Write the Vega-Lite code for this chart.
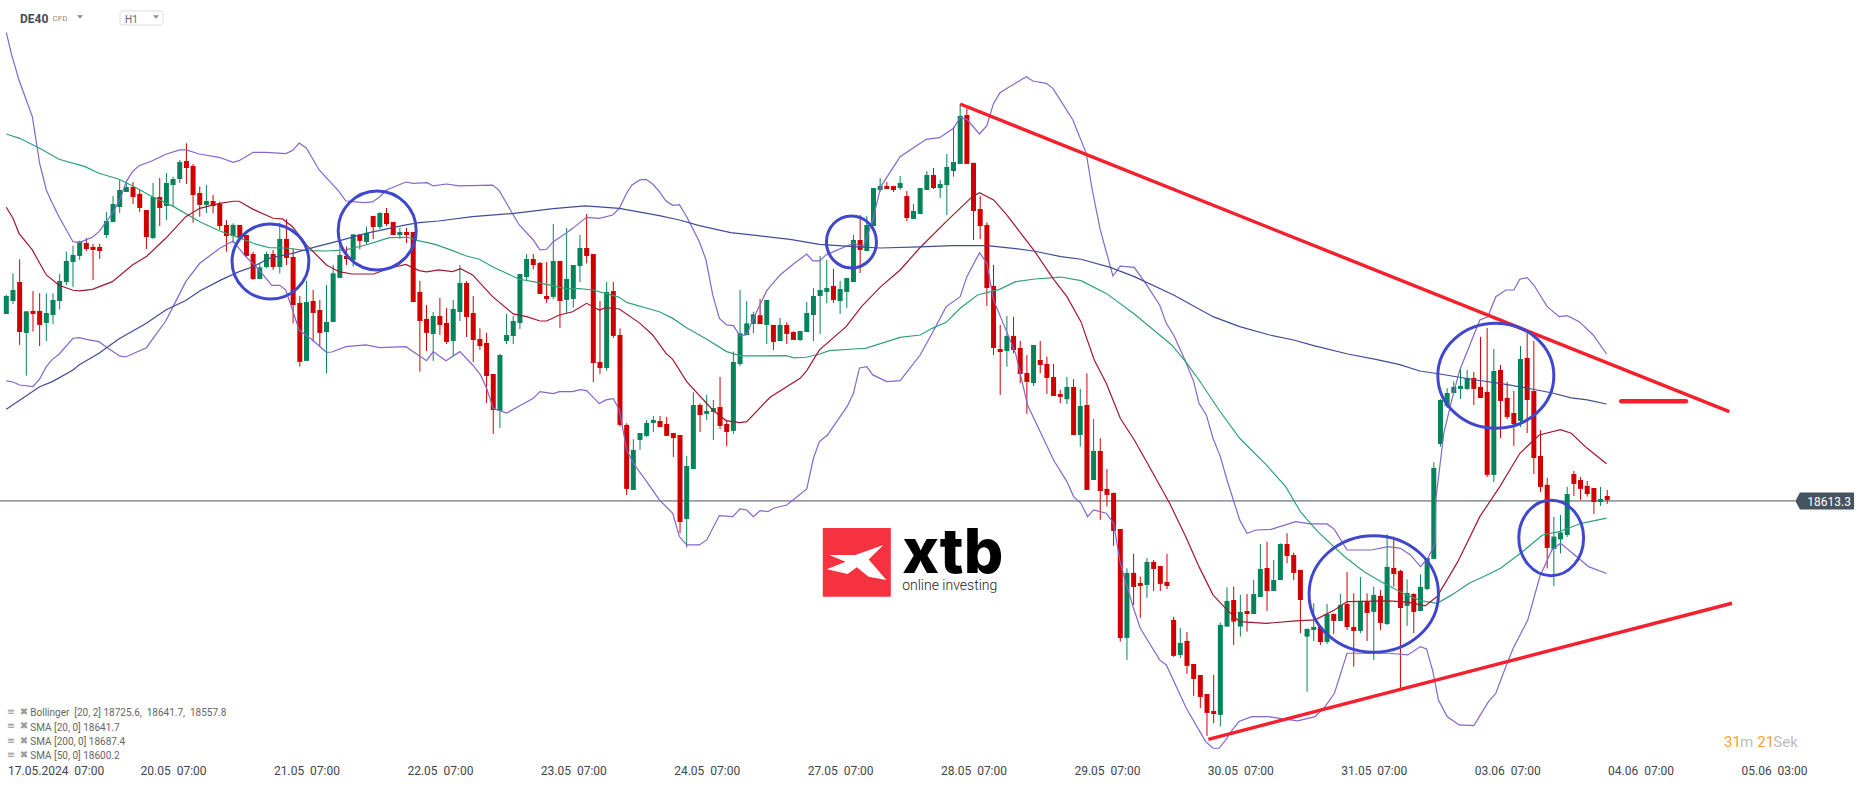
{
"$schema":"https://vega.github.io/schema/vega-lite/v6.json",
"width":1800,"height":762,
"autosize":{"type":"none"},
"padding":{"left":0,"top":0,"right":66,"bottom":25},
"background":"white",
"config":{"view":{"stroke":null},"font":"Roboto"},
"datasets":{
"candles":[
{"i":0,"o":18756.2,"h":18770.7,"l":18756.2,"c":18769.9},
{"i":1,"o":18766.1,"h":18787.3,"l":18763.8,"c":18774.5},
{"i":2,"o":18780.6,"h":18797.9,"l":18732.5,"c":18742.4},
{"i":3,"o":18741.7,"h":18758.2,"l":18709.1,"c":18758.2},
{"i":4,"o":18758.5,"h":18773.7,"l":18742.7,"c":18756.2},
{"i":5,"o":18758.5,"h":18772,"l":18731.7,"c":18747.8},
{"i":6,"o":18749.3,"h":18772,"l":18735.5,"c":18756.9},
{"i":7,"o":18755.4,"h":18772,"l":18748.5,"c":18766.9},
{"i":8,"o":18766.1,"h":18786.7,"l":18759.7,"c":18781.4},
{"i":9,"o":18780.6,"h":18803.8,"l":18778.3,"c":18796.7},
{"i":10,"o":18795.9,"h":18808.4,"l":18776.8,"c":18801.3},
{"i":11,"o":18800.5,"h":18812.2,"l":18797.4,"c":18811.4},
{"i":12,"o":18810.4,"h":18814.2,"l":18804.3,"c":18805.8},
{"i":13,"o":18807.4,"h":18809.7,"l":18782.2,"c":18805.1},
{"i":14,"o":18807.4,"h":18809.7,"l":18798.2,"c":18804.3},
{"i":15,"o":18816.5,"h":18834.1,"l":18814.2,"c":18827.2},
{"i":16,"o":18826.5,"h":18846.3,"l":18826.5,"c":18840.2},
{"i":17,"o":18837.9,"h":18858.6,"l":18833.3,"c":18850.9},
{"i":18,"o":18849.4,"h":18857.3,"l":18849.4,"c":18853.2},
{"i":19,"o":18853.2,"h":18857,"l":18840.2,"c":18845.6},
{"i":20,"o":18847.9,"h":18850.9,"l":18834.1,"c":18837.2},
{"i":21,"o":18835.6,"h":18835.6,"l":18805.8,"c":18815},
{"i":22,"o":18814.2,"h":18856.3,"l":18813.5,"c":18845.6},
{"i":23,"o":18845.6,"h":18860.1,"l":18823.4,"c":18837.2},
{"i":24,"o":18838.7,"h":18863.9,"l":18828,"c":18856.3},
{"i":25,"o":18854.7,"h":18861.1,"l":18838.7,"c":18859.3},
{"i":26,"o":18859.3,"h":18873.8,"l":18856.3,"c":18872.3},
{"i":27,"o":18873.1,"h":18886.6,"l":18855.5,"c":18867.7},
{"i":28,"o":18869.3,"h":18870.8,"l":18826,"c":18847.1},
{"i":29,"o":18848.6,"h":18853.5,"l":18830.5,"c":18839.5},
{"i":30,"o":18839.5,"h":18854.7,"l":18833.1,"c":18842.5},
{"i":31,"o":18842.5,"h":18847.1,"l":18833.1,"c":18838.7},
{"i":32,"o":18840.2,"h":18842,"l":18820.4,"c":18823.4},
{"i":33,"o":18824.2,"h":18828,"l":18803.8,"c":18815.8},
{"i":34,"o":18815.8,"h":18825.4,"l":18810.2,"c":18824.2},
{"i":35,"o":18824.2,"h":18824.2,"l":18812.7,"c":18814.2},
{"i":36,"o":18816.5,"h":18816.5,"l":18800,"c":18800.5},
{"i":37,"o":18802,"h":18803.8,"l":18782.2,"c":18782.9},
{"i":38,"o":18782.9,"h":18794.9,"l":18782.9,"c":18791.8},
{"i":39,"o":18792.1,"h":18803.8,"l":18791.1,"c":18802},
{"i":40,"o":18802,"h":18805.1,"l":18789.8,"c":18792.1},
{"i":41,"o":18792.1,"h":18826,"l":18787.2,"c":18813.5},
{"i":42,"o":18813.5,"h":18828.5,"l":18793.6,"c":18799},
{"i":43,"o":18799.7,"h":18806.3,"l":18749,"c":18763},
{"i":44,"o":18764.6,"h":18769.9,"l":18715.9,"c":18719.5},
{"i":45,"o":18720.3,"h":18781.4,"l":18720.3,"c":18765.3},
{"i":46,"o":18766.1,"h":18774.5,"l":18735,"c":18756.9},
{"i":47,"o":18759.2,"h":18766.9,"l":18731.2,"c":18741.7},
{"i":48,"o":18742.4,"h":18778.3,"l":18710.8,"c":18750.1},
{"i":49,"o":18750.1,"h":18793.6,"l":18750.1,"c":18787.2},
{"i":50,"o":18783.7,"h":18810.2,"l":18783.7,"c":18801.3},
{"i":51,"o":18800.5,"h":18807.6,"l":18793.6,"c":18798.2},
{"i":52,"o":18797.4,"h":18817,"l":18792.3,"c":18817},
{"i":53,"o":18817,"h":18817,"l":18805.6,"c":18812},
{"i":54,"o":18811.2,"h":18822.9,"l":18808.9,"c":18818.1},
{"i":55,"o":18831.1,"h":18831.1,"l":18813.5,"c":18822.6},
{"i":56,"o":18822.6,"h":18834.1,"l":18821.1,"c":18833.3},
{"i":57,"o":18833.3,"h":18837.2,"l":18823.4,"c":18824.9},
{"i":58,"o":18826.5,"h":18826.5,"l":18816.5,"c":18816.5},
{"i":59,"o":18816.5,"h":18821.9,"l":18813.5,"c":18818.8},
{"i":60,"o":18818.8,"h":18821.9,"l":18810.4,"c":18816.5},
{"i":61,"o":18818.8,"h":18818.8,"l":18765.3,"c":18765.3},
{"i":62,"o":18773,"h":18781.4,"l":18712.1,"c":18750.8},
{"i":63,"o":18752.4,"h":18763,"l":18727.9,"c":18741.7},
{"i":64,"o":18740.9,"h":18757.7,"l":18720.3,"c":18754.6},
{"i":65,"o":18754.6,"h":18768.4,"l":18740.1,"c":18747.8},
{"i":66,"o":18749.3,"h":18760.8,"l":18733.2,"c":18734.8},
{"i":67,"o":18735.5,"h":18766.9,"l":18724.1,"c":18760},
{"i":68,"o":18757.7,"h":18793.6,"l":18750.8,"c":18779.9},
{"i":69,"o":18779.9,"h":18781.4,"l":18738.6,"c":18753.9},
{"i":70,"o":18756.9,"h":18769.9,"l":18719.5,"c":18736.3},
{"i":71,"o":18737.1,"h":18745.2,"l":18728.7,"c":18731.7},
{"i":72,"o":18734,"h":18741.7,"l":18688.2,"c":18708.8},
{"i":73,"o":18710.3,"h":18710.3,"l":18664.5,"c":18682.8},
{"i":74,"o":18682.1,"h":18725.6,"l":18669.1,"c":18724.8},
{"i":75,"o":18735.5,"h":18756.2,"l":18733.2,"c":18740.1},
{"i":76,"o":18739.4,"h":18754.6,"l":18733.2,"c":18750.8},
{"i":77,"o":18749.3,"h":18786.7,"l":18744.7,"c":18786.7},
{"i":78,"o":18784.4,"h":18802,"l":18782.2,"c":18798.2},
{"i":79,"o":18798.2,"h":18802,"l":18790.3,"c":18793.6},
{"i":80,"o":18795.1,"h":18795.9,"l":18771.5,"c":18771.5},
{"i":81,"o":18769.9,"h":18795.9,"l":18764.6,"c":18767.6},
{"i":82,"o":18769.2,"h":18824.9,"l":18767.6,"c":18796.7},
{"i":83,"o":18796.7,"h":18796.7,"l":18745.5,"c":18766.1},
{"i":84,"o":18766.9,"h":18821.9,"l":18756.7,"c":18782.9},
{"i":85,"o":18767.6,"h":18793.6,"l":18761,"c":18793.6},
{"i":86,"o":18792.8,"h":18816.5,"l":18780.6,"c":18806.6},
{"i":87,"o":18806.6,"h":18832.6,"l":18794.9,"c":18800.5},
{"i":88,"o":18802,"h":18802,"l":18704.2,"c":18718.7},
{"i":89,"o":18719.5,"h":18766.1,"l":18710.3,"c":18714.9},
{"i":90,"o":18714.9,"h":18780.6,"l":18712.9,"c":18773},
{"i":91,"o":18773.7,"h":18780.6,"l":18737.8,"c":18739.4},
{"i":92,"o":18740.1,"h":18745.2,"l":18670.1,"c":18671.4},
{"i":93,"o":18671.4,"h":18672.6,"l":18617.9,"c":18622.5},
{"i":94,"o":18621.7,"h":18660.4,"l":18621.7,"c":18652.3},
{"i":95,"o":18659.9,"h":18665.2,"l":18652.3,"c":18665.2},
{"i":96,"o":18663,"h":18675.2,"l":18662.2,"c":18672.9},
{"i":97,"o":18672.9,"h":18678.2,"l":18666,"c":18675.2},
{"i":98,"o":18674.4,"h":18678.2,"l":18669.8,"c":18669.8},
{"i":99,"o":18672.1,"h":18677.5,"l":18663,"c":18663},
{"i":100,"o":18665.2,"h":18665.2,"l":18646.9,"c":18661.4},
{"i":101,"o":18663.7,"h":18663.7,"l":18588.6,"c":18597.2},
{"i":102,"o":18599.5,"h":18647.7,"l":18577.6,"c":18640},
{"i":103,"o":18637.7,"h":18696.3,"l":18637.7,"c":18686.6},
{"i":104,"o":18686.6,"h":18687.9,"l":18666,"c":18679},
{"i":105,"o":18679.8,"h":18694.3,"l":18675.2,"c":18682.1},
{"i":106,"o":18681.3,"h":18690.5,"l":18659.9,"c":18684.3},
{"i":107,"o":18685.1,"h":18708,"l":18668.3,"c":18670.6},
{"i":108,"o":18672.1,"h":18675.2,"l":18655.3,"c":18666},
{"i":109,"o":18666.8,"h":18727.4,"l":18664.5,"c":18719.5},
{"i":110,"o":18718,"h":18774.5,"l":18716.4,"c":18741.4},
{"i":111,"o":18740.1,"h":18766.1,"l":18740.1,"c":18749},
{"i":112,"o":18748.5,"h":18757.9,"l":18741.4,"c":18755.9},
{"i":113,"o":18755.2,"h":18767.6,"l":18748.5,"c":18748.5},
{"i":114,"o":18747.8,"h":18766.9,"l":18733.2,"c":18766.9},
{"i":115,"o":18747.8,"h":18747.8,"l":18728.7,"c":18734.8},
{"i":116,"o":18735.5,"h":18753.1,"l":18735.5,"c":18747.8},
{"i":117,"o":18747.8,"h":18749.8,"l":18733.2,"c":18740.9},
{"i":118,"o":18742.4,"h":18742.9,"l":18736.3,"c":18736.3},
{"i":119,"o":18736.3,"h":18743.2,"l":18735.5,"c":18743.2},
{"i":120,"o":18742.4,"h":18765.3,"l":18742.4,"c":18756.9},
{"i":121,"o":18755.4,"h":18775.8,"l":18735.5,"c":18769.9},
{"i":122,"o":18769.9,"h":18800.5,"l":18740.9,"c":18774.5},
{"i":123,"o":18773,"h":18797.4,"l":18764.3,"c":18776},
{"i":124,"o":18777.6,"h":18790.6,"l":18764.6,"c":18766.9},
{"i":125,"o":18766.1,"h":18781.4,"l":18756.2,"c":18775.3},
{"i":126,"o":18773,"h":18783.7,"l":18760.8,"c":18783.7},
{"i":127,"o":18780.6,"h":18816.5,"l":18780.6,"c":18812.7},
{"i":128,"o":18812.7,"h":18831.8,"l":18787.5,"c":18805.1},
{"i":129,"o":18804.3,"h":18831.1,"l":18804.3,"c":18824.2},
{"i":130,"o":18823.4,"h":18852.4,"l":18823.4,"c":18852.4},
{"i":131,"o":18850.9,"h":18860.1,"l":18849.4,"c":18854},
{"i":132,"o":18854,"h":18857,"l":18851.7,"c":18851.7},
{"i":133,"o":18854,"h":18854,"l":18849.4,"c":18850.9},
{"i":134,"o":18852.4,"h":18861.6,"l":18850.9,"c":18856.3},
{"i":135,"o":18846.3,"h":18850.2,"l":18827.2,"c":18829.5},
{"i":136,"o":18828.8,"h":18840.2,"l":18828.8,"c":18834.9},
{"i":137,"o":18832.6,"h":18852.4,"l":18832.6,"c":18852.4},
{"i":138,"o":18850.9,"h":18865.4,"l":18850.9,"c":18862.4},
{"i":139,"o":18862.4,"h":18867.7,"l":18851.7,"c":18852.4},
{"i":140,"o":18852.4,"h":18858.6,"l":18844.8,"c":18855.5},
{"i":141,"o":18854.7,"h":18878.4,"l":18831.8,"c":18868.5},
{"i":142,"o":18865.4,"h":18899.3,"l":18861.1,"c":18872.3},
{"i":143,"o":18870.8,"h":18916.6,"l":18870.8,"c":18907.5},
{"i":144,"o":18908.2,"h":18913.3,"l":18870.8,"c":18870.8},
{"i":145,"o":18871.6,"h":18871.8,"l":18812.7,"c":18834.9},
{"i":146,"o":18836.4,"h":18846.3,"l":18813.5,"c":18823.4},
{"i":147,"o":18824.2,"h":18826.2,"l":18762.3,"c":18776},
{"i":148,"o":18777.6,"h":18793.6,"l":18724.8,"c":18730.2},
{"i":149,"o":18729.4,"h":18747.8,"l":18694.3,"c":18727.1},
{"i":150,"o":18727.9,"h":18754.6,"l":18715.9,"c":18739.4},
{"i":151,"o":18739.4,"h":18753.9,"l":18726.1,"c":18728.7},
{"i":152,"o":18730.2,"h":18735.5,"l":18703.2,"c":18710.3},
{"i":153,"o":18711.1,"h":18724.8,"l":18679.8,"c":18704.2},
{"i":154,"o":18703.4,"h":18732.5,"l":18701.2,"c":18732.5},
{"i":155,"o":18721,"h":18735.5,"l":18710.8,"c":18717.2},
{"i":156,"o":18718,"h":18723.6,"l":18695,"c":18707.3},
{"i":157,"o":18708,"h":18718,"l":18693.5,"c":18693.5},
{"i":158,"o":18695,"h":18698.1,"l":18687.9,"c":18692.8},
{"i":159,"o":18691,"h":18708,"l":18687.4,"c":18700.4},
{"i":160,"o":18700.4,"h":18706.3,"l":18663.7,"c":18663.7},
{"i":161,"o":18663.7,"h":18698.9,"l":18654.8,"c":18685.9},
{"i":162,"o":18686.6,"h":18710.8,"l":18621.7,"c":18621.7},
{"i":163,"o":18629.3,"h":18675.9,"l":18629.3,"c":18651.5},
{"i":164,"o":18651.5,"h":18661.2,"l":18598.8,"c":18620.9},
{"i":165,"o":18622.5,"h":18637.7,"l":18609,"c":18617.9},
{"i":166,"o":18619.4,"h":18619.7,"l":18578.9,"c":18590.4},
{"i":167,"o":18591.9,"h":18591.9,"l":18505.8,"c":18508.6},
{"i":168,"o":18508.6,"h":18561.8,"l":18491.8,"c":18558.3},
{"i":169,"o":18558.3,"h":18572.8,"l":18533.8,"c":18547.6},
{"i":170,"o":18550.6,"h":18555.5,"l":18523.9,"c":18548.3},
{"i":171,"o":18549.1,"h":18569.7,"l":18539.2,"c":18566.7},
{"i":172,"o":18566.7,"h":18568.2,"l":18544.5,"c":18561.3},
{"i":173,"o":18563.6,"h":18563.6,"l":18544.5,"c":18549.9},
{"i":174,"o":18551.4,"h":18572.8,"l":18546,"c":18548.3},
{"i":175,"o":18522.4,"h":18524.6,"l":18494.1,"c":18494.9},
{"i":176,"o":18495.6,"h":18516.2,"l":18493.3,"c":18504.8},
{"i":177,"o":18506.3,"h":18513.2,"l":18481.1,"c":18487.2},
{"i":178,"o":18488.7,"h":18488.7,"l":18464.3,"c":18477.3},
{"i":179,"o":18480.3,"h":18480.3,"l":18455.1,"c":18463.5},
{"i":180,"o":18465.8,"h":18465.8,"l":18433.7,"c":18451.3},
{"i":181,"o":18452.8,"h":18480.3,"l":18443.4,"c":18450.5},
{"i":182,"o":18449.8,"h":18520.3,"l":18440.9,"c":18518.5},
{"i":183,"o":18517.3,"h":18547.3,"l":18517.3,"c":18536.9},
{"i":184,"o":18537.6,"h":18547.8,"l":18503.3,"c":18521.1},
{"i":185,"o":18517.3,"h":18541.5,"l":18509.6,"c":18528.5},
{"i":186,"o":18529.2,"h":18542.2,"l":18513.4,"c":18526.9},
{"i":187,"o":18526.9,"h":18552.9,"l":18526.9,"c":18542.2},
{"i":188,"o":18539.9,"h":18580.4,"l":18539.9,"c":18561.3},
{"i":189,"o":18562.1,"h":18582.2,"l":18529.2,"c":18544.5},
{"i":190,"o":18544.5,"h":18568.2,"l":18544.5,"c":18552.9},
{"i":191,"o":18552.9,"h":18580.9,"l":18552.9,"c":18580.4},
{"i":192,"o":18580.4,"h":18588.6,"l":18565.7,"c":18571.3},
{"i":193,"o":18572,"h":18573.8,"l":18552.9,"c":18558.3},
{"i":194,"o":18560.6,"h":18560.6,"l":18512.2,"c":18537.6},
{"i":195,"o":18509.6,"h":18515.9,"l":18467.6,"c":18515.5},
{"i":196,"o":18514.7,"h":18535.1,"l":18506.3,"c":18517},
{"i":197,"o":18517,"h":18518.5,"l":18503.3,"c":18505.5},
{"i":198,"o":18505.5,"h":18534.6,"l":18504,"c":18526.9},
{"i":199,"o":18526.9,"h":18527.4,"l":18511.7,"c":18521.6},
{"i":200,"o":18521.6,"h":18542.2,"l":18521.6,"c":18533.8},
{"i":201,"o":18534.6,"h":18559,"l":18514.7,"c":18517},
{"i":202,"o":18517,"h":18542.7,"l":18486.7,"c":18514},
{"i":203,"o":18514,"h":18555.2,"l":18512.2,"c":18536.9},
{"i":204,"o":18536.1,"h":18542.7,"l":18506.3,"c":18527.7},
{"i":205,"o":18528.5,"h":18547.8,"l":18491.8,"c":18541.5},
{"i":206,"o":18540.7,"h":18545.3,"l":18514.7,"c":18520.1},
{"i":207,"o":18519.3,"h":18587.8,"l":18518.5,"c":18562.9},
{"i":208,"o":18562.1,"h":18586,"l":18547.8,"c":18557.5},
{"i":209,"o":18559.8,"h":18560.6,"l":18470.1,"c":18531.5},
{"i":210,"o":18533.1,"h":18553.4,"l":18517.8,"c":18543},
{"i":211,"o":18542.2,"h":18542.7,"l":18512.2,"c":18528.5},
{"i":212,"o":18529.2,"h":18557.3,"l":18529.2,"c":18547.6},
{"i":213,"o":18546,"h":18569.7,"l":18545.3,"c":18569.7},
{"i":214,"o":18569,"h":18642.8,"l":18569,"c":18638.5},
{"i":215,"o":18656.8,"h":18691,"l":18654.8,"c":18690.5},
{"i":216,"o":18685.9,"h":18699.4,"l":18684.3,"c":18695.8},
{"i":217,"o":18695.8,"h":18704.7,"l":18695.8,"c":18700.4},
{"i":218,"o":18698.9,"h":18714.1,"l":18691.2,"c":18701.2},
{"i":219,"o":18698.9,"h":18713.4,"l":18698.1,"c":18707.3},
{"i":220,"o":18707.3,"h":18711.9,"l":18686.6,"c":18698.9},
{"i":221,"o":18700.4,"h":18738.6,"l":18692,"c":18692},
{"i":222,"o":18696.6,"h":18745.5,"l":18631.6,"c":18633.2},
{"i":223,"o":18633.2,"h":18729.4,"l":18627.8,"c":18712.6},
{"i":224,"o":18713.4,"h":18717.2,"l":18661.4,"c":18689.7},
{"i":225,"o":18692,"h":18704.2,"l":18675.9,"c":18677.5},
{"i":226,"o":18680.5,"h":18697.3,"l":18655.3,"c":18672.1},
{"i":227,"o":18674.4,"h":18731.7,"l":18669.8,"c":18721.8},
{"i":228,"o":18722.6,"h":18741.4,"l":18665.2,"c":18690.5},
{"i":229,"o":18697.3,"h":18735.5,"l":18633.9,"c":18646.1},
{"i":230,"o":18647.7,"h":18667.5,"l":18620.2,"c":18624},
{"i":231,"o":18625.6,"h":18630.9,"l":18561.8,"c":18577.4},
{"i":232,"o":18576.6,"h":18601.1,"l":18548.3,"c":18586.1},
{"i":233,"o":18583.9,"h":18602.6,"l":18573.2,"c":18589.2},
{"i":234,"o":18587.3,"h":18624,"l":18585.8,"c":18618.6},
{"i":235,"o":18633.9,"h":18636.2,"l":18617.1,"c":18626.3},
{"i":236,"o":18629.3,"h":18631.6,"l":18614.1,"c":18622.5},
{"i":237,"o":18624.8,"h":18628.6,"l":18616.6,"c":18618.6},
{"i":238,"o":18623.2,"h":18623.2,"l":18603.4,"c":18612.5},
{"i":239,"o":18612.5,"h":18624,"l":18609.5,"c":18614.8},
{"i":240,"o":18617.1,"h":18621.7,"l":18611,"c":18614.1}
],
"bbUpper":[{"i":0,"v":18971.4},{"i":0.8,"v":18954.1},{"i":1.9,"v":18935},{"i":3.9,"v":18907},{"i":5,"v":18871.3},{"i":6,"v":18850.9},{"i":6.9,"v":18840.7},{"i":7.9,"v":18830.5},{"i":10,"v":18811.4},{"i":11,"v":18810.9},{"i":12.9,"v":18814.8},{"i":13.9,"v":18819.1},{"i":15,"v":18826.7},{"i":15.9,"v":18833.1},{"i":17,"v":18843.3},{"i":18,"v":18857.3},{"i":18.9,"v":18864.9},{"i":19.9,"v":18869.5},{"i":21.9,"v":18873.3},{"i":23.9,"v":18878.2},{"i":26,"v":18881.5},{"i":27,"v":18881.5},{"i":28.9,"v":18878.4},{"i":31.9,"v":18875.9},{"i":34,"v":18872.1},{"i":34.9,"v":18873.3},{"i":37,"v":18879.7},{"i":38.9,"v":18879.7},{"i":41.9,"v":18878.7},{"i":42.9,"v":18881},{"i":43.9,"v":18886.8},{"i":45,"v":18882.8},{"i":46.9,"v":18866.2},{"i":49.9,"v":18849.6},{"i":50.9,"v":18842.5},{"i":53.6,"v":18841.2},{"i":54.9,"v":18841.8},{"i":56,"v":18845.8},{"i":57,"v":18850.9},{"i":59.9,"v":18857},{"i":61,"v":18856},{"i":63.1,"v":18856.5},{"i":64,"v":18854},{"i":66,"v":18855.5},{"i":67.9,"v":18854},{"i":72.9,"v":18854.7},{"i":73.9,"v":18850.4},{"i":76,"v":18831.8},{"i":76.9,"v":18824.2},{"i":79,"v":18812.7},{"i":80,"v":18805.1},{"i":81,"v":18805.6},{"i":82,"v":18811.4},{"i":83.9,"v":18817.8},{"i":84.9,"v":18821.6},{"i":87,"v":18830},{"i":88.9,"v":18829.3},{"i":90.9,"v":18831.8},{"i":91.9,"v":18836.9},{"i":93,"v":18848.4},{"i":93.8,"v":18854.7},{"i":95,"v":18858.6},{"i":95.9,"v":18859.1},{"i":96.9,"v":18855.5},{"i":97.9,"v":18849.6},{"i":98.9,"v":18842.5},{"i":99.9,"v":18839.2},{"i":100.9,"v":18839.7},{"i":102,"v":18830.5},{"i":103.9,"v":18811.4},{"i":104.9,"v":18797.4},{"i":105.9,"v":18770.7},{"i":106.9,"v":18752.8},{"i":108,"v":18747.8},{"i":109,"v":18747.3},{"i":110,"v":18739.4},{"i":111,"v":18740.4},{"i":112,"v":18752.8},{"i":114,"v":18774},{"i":116,"v":18786},{"i":118,"v":18794.4},{"i":120,"v":18802},{"i":120.9,"v":18796.7},{"i":121.9,"v":18796.7},{"i":122.9,"v":18801.3},{"i":124,"v":18803.8},{"i":127,"v":18810.2},{"i":128.5,"v":18807.6},{"i":129.9,"v":18828},{"i":131.1,"v":18853.5},{"i":134,"v":18876.4},{"i":137.9,"v":18889.6},{"i":139.9,"v":18890.9},{"i":142,"v":18898},{"i":143,"v":18906.4},{"i":144,"v":18904.9},{"i":145.9,"v":18893.7},{"i":147,"v":18900.1},{"i":148,"v":18917.1},{"i":149,"v":18925.5},{"i":152.9,"v":18937.5},{"i":153.9,"v":18934.2},{"i":155.9,"v":18932.4},{"i":156.9,"v":18928.6},{"i":159.9,"v":18904.4},{"i":161.9,"v":18878.9},{"i":162.8,"v":18850.9},{"i":164,"v":18820.4},{"i":165.9,"v":18785.2},{"i":167,"v":18792.8},{"i":169.1,"v":18791.8},{"i":170.8,"v":18779.6},{"i":172.9,"v":18763},{"i":173.9,"v":18749},{"i":175,"v":18740.1},{"i":176.8,"v":18719.8},{"i":178,"v":18704.5},{"i":178.8,"v":18687.9},{"i":179.9,"v":18679},{"i":180.9,"v":18661.2},{"i":182,"v":18647.2},{"i":183,"v":18629.3},{"i":184.9,"v":18598.8},{"i":186,"v":18588.6},{"i":187.4,"v":18591.1},{"i":189.6,"v":18591.6},{"i":193.3,"v":18597.5},{"i":195.5,"v":18595.7},{"i":198,"v":18595.7},{"i":199.1,"v":18591.6},{"i":201,"v":18575.8},{"i":204.6,"v":18575.8},{"i":207.2,"v":18578.4},{"i":209,"v":18577.1},{"i":210.5,"v":18572},{"i":212,"v":18563.1},{"i":213.1,"v":18569.5},{"i":214.2,"v":18580.9},{"i":214.3,"v":18614.1},{"i":215.5,"v":18665},{"i":216.7,"v":18690.5},{"i":217.9,"v":18713.4},{"i":219.1,"v":18728.7},{"i":220.9,"v":18751.6},{"i":222.1,"v":18754.1},{"i":223.3,"v":18769.4},{"i":224.8,"v":18774.5},{"i":226,"v":18774.5},{"i":226.9,"v":18782.7},{"i":228,"v":18783.9},{"i":229,"v":18778.3},{"i":231,"v":18761.8},{"i":232.8,"v":18754.1},{"i":234,"v":18754.9},{"i":235.8,"v":18750.3},{"i":237.9,"v":18740.1},{"i":239.9,"v":18725.6}],
"bbLower":[{"i":0,"v":18705},{"i":1,"v":18704.2},{"i":2,"v":18701.9},{"i":4,"v":18700.6},{"i":5,"v":18706.5},{"i":6,"v":18715.9},{"i":6.9,"v":18721.5},{"i":7.9,"v":18725.4},{"i":10,"v":18737.6},{"i":11,"v":18738.1},{"i":12,"v":18736.8},{"i":13.9,"v":18735},{"i":14.9,"v":18731.2},{"i":17,"v":18724.1},{"i":17.9,"v":18723.3},{"i":21,"v":18730.4},{"i":21.9,"v":18736.8},{"i":23.9,"v":18750.8},{"i":25,"v":18761.8},{"i":26.9,"v":18780.9},{"i":29,"v":18794.9},{"i":32,"v":18806.4},{"i":34,"v":18812},{"i":35.9,"v":18800},{"i":36.9,"v":18794.9},{"i":37.9,"v":18789.8},{"i":39.8,"v":18778.1},{"i":41,"v":18778.1},{"i":41.9,"v":18774.5},{"i":42.9,"v":18759.2},{"i":43.9,"v":18743.9},{"i":45.9,"v":18736.3},{"i":48,"v":18726.9},{"i":48.8,"v":18727.1},{"i":50.9,"v":18731.2},{"i":53.9,"v":18732.5},{"i":56,"v":18730.4},{"i":59.9,"v":18731.2},{"i":63,"v":18720.5},{"i":64,"v":18727.4},{"i":65.9,"v":18720.5},{"i":68,"v":18727.4},{"i":69.9,"v":18717.2},{"i":71.1,"v":18709.6},{"i":72,"v":18699.4},{"i":73,"v":18684.1},{"i":75,"v":18680.5},{"i":76.9,"v":18685.9},{"i":79,"v":18691.7},{"i":80,"v":18696.8},{"i":82,"v":18695.3},{"i":82.9,"v":18696.8},{"i":84.9,"v":18696.8},{"i":86,"v":18698.3},{"i":87,"v":18697.6},{"i":88.9,"v":18687.7},{"i":89.9,"v":18690.5},{"i":91,"v":18691.5},{"i":91.9,"v":18682.8},{"i":93,"v":18652.3},{"i":94,"v":18642.1},{"i":96,"v":18628.1},{"i":97.9,"v":18614.1},{"i":99.9,"v":18603.9},{"i":100.9,"v":18586.1},{"i":102,"v":18579.7},{"i":103.9,"v":18579.7},{"i":105,"v":18583.5},{"i":106.9,"v":18602.1},{"i":108.9,"v":18601.3},{"i":110,"v":18607.2},{"i":111,"v":18606.4},{"i":112,"v":18601.3},{"i":113,"v":18605.9},{"i":114.2,"v":18605.1},{"i":115,"v":18607.7},{"i":117,"v":18610.2},{"i":120,"v":18622.5},{"i":121,"v":18645.9},{"i":121.9,"v":18658.7},{"i":123.1,"v":18663.7},{"i":126.1,"v":18685.9},{"i":127,"v":18695.6},{"i":127.9,"v":18714.9},{"i":129,"v":18715.9},{"i":129.9,"v":18709.6},{"i":132,"v":18704.5},{"i":134,"v":18705.2},{"i":137,"v":18724.8},{"i":138.8,"v":18741.4},{"i":140.9,"v":18761.8},{"i":143,"v":18769.4},{"i":144,"v":18784.7},{"i":145.9,"v":18803},{"i":147,"v":18794.9},{"i":148,"v":18766.9},{"i":151.3,"v":18726.1},{"i":153.1,"v":18686.6},{"i":157,"v":18644.6},{"i":159,"v":18628.1},{"i":160,"v":18616.6},{"i":161.1,"v":18611.5},{"i":162.1,"v":18601.3},{"i":163,"v":18606.4},{"i":164.9,"v":18603.9},{"i":166,"v":18596.2},{"i":167,"v":18565.7},{"i":168.9,"v":18532.6},{"i":170,"v":18516},{"i":172.9,"v":18491.8},{"i":173.9,"v":18488},{"i":176.9,"v":18454.9},{"i":179.8,"v":18429.4},{"i":180.9,"v":18424.3},{"i":181.8,"v":18424.3},{"i":183,"v":18431.9},{"i":183.4,"v":18435.8},{"i":184.8,"v":18444.7},{"i":186.7,"v":18448.5},{"i":189.2,"v":18448.5},{"i":191.4,"v":18446.7},{"i":193.6,"v":18445.2},{"i":196.2,"v":18448.5},{"i":197.7,"v":18456.1},{"i":199.1,"v":18466.3},{"i":201,"v":18496.9},{"i":207.2,"v":18496.9},{"i":210.1,"v":18495.6},{"i":212,"v":18502},{"i":212.9,"v":18500.2},{"i":213.8,"v":18484.2},{"i":214.7,"v":18461.2},{"i":216,"v":18448.5},{"i":217.8,"v":18442.1},{"i":220,"v":18441.6},{"i":222.2,"v":18459.9},{"i":223.3,"v":18466.3},{"i":224.8,"v":18486.7},{"i":225.9,"v":18500.7},{"i":228.1,"v":18522.4},{"i":229.9,"v":18555.5},{"i":231.7,"v":18575.8},{"i":233,"v":18580.9},{"i":235.4,"v":18570.8},{"i":237.2,"v":18563.1},{"i":239.9,"v":18557.8}],
"sma50":[{"i":0,"v":18893.7},{"i":2,"v":18890.4},{"i":5,"v":18882.8},{"i":7.9,"v":18874.4},{"i":11.8,"v":18868.8},{"i":13.9,"v":18863.7},{"i":16.8,"v":18859.3},{"i":18.9,"v":18854.2},{"i":21.9,"v":18845.8},{"i":25.1,"v":18838.2},{"i":29,"v":18826.7},{"i":32,"v":18819.6},{"i":34.9,"v":18814.5},{"i":37,"v":18810.2},{"i":39.4,"v":18806.9},{"i":41.9,"v":18806.6},{"i":45,"v":18804.6},{"i":48,"v":18804.3},{"i":50.9,"v":18805.1},{"i":53.9,"v":18808.9},{"i":56,"v":18812.2},{"i":57.4,"v":18814.5},{"i":60.1,"v":18814.8},{"i":61.9,"v":18812},{"i":64.3,"v":18809.4},{"i":66.9,"v":18804.6},{"i":69,"v":18800.5},{"i":70.9,"v":18798},{"i":72.9,"v":18792.3},{"i":76.9,"v":18782.7},{"i":79,"v":18780.9},{"i":82,"v":18777.6},{"i":83.9,"v":18775.5},{"i":85.9,"v":18775.5},{"i":88,"v":18774.5},{"i":91.9,"v":18768.9},{"i":93,"v":18765},{"i":97.9,"v":18757.9},{"i":99.9,"v":18752.8},{"i":102.1,"v":18745.2},{"i":105,"v":18736.8},{"i":108,"v":18727.4},{"i":110.1,"v":18724.1},{"i":116.9,"v":18724.3},{"i":118.1,"v":18722.6},{"i":119.9,"v":18723.1},{"i":121.9,"v":18725.6},{"i":123.4,"v":18728.2},{"i":127,"v":18729.4},{"i":128.8,"v":18729.9},{"i":134,"v":18738.3},{"i":137,"v":18740.1},{"i":138.8,"v":18745.2},{"i":140.9,"v":18749.8},{"i":143,"v":18760.5},{"i":145.6,"v":18770.7},{"i":148.9,"v":18775},{"i":151.3,"v":18780.9},{"i":154.2,"v":18782.9},{"i":158.1,"v":18784.4},{"i":161.1,"v":18781.6},{"i":164.9,"v":18771.9},{"i":169.1,"v":18756.2},{"i":172,"v":18743.9},{"i":174.7,"v":18732.5},{"i":176.8,"v":18719.8},{"i":178.8,"v":18705.7},{"i":181.8,"v":18682.8},{"i":184.9,"v":18661.2},{"i":188.9,"v":18640.8},{"i":191.8,"v":18624.2},{"i":194,"v":18605.1},{"i":196.6,"v":18589.8},{"i":200.6,"v":18570.8},{"i":203.5,"v":18559.3},{"i":206.1,"v":18551.6},{"i":209.4,"v":18542.7},{"i":212,"v":18537.1},{"i":214.5,"v":18535.1},{"i":216.7,"v":18541.5},{"i":219.3,"v":18550.4},{"i":221.5,"v":18555.5},{"i":224,"v":18561.8},{"i":227,"v":18573.3},{"i":230.3,"v":18587.3},{"i":232.8,"v":18589.8},{"i":236.1,"v":18596.2},{"i":239.9,"v":18600.2}],
"sma20":[{"i":0,"v":18837.7},{"i":1,"v":18829.3},{"i":1.9,"v":18817.8},{"i":3.9,"v":18805.1},{"i":5,"v":18794.9},{"i":6,"v":18786},{"i":7.9,"v":18778.1},{"i":10,"v":18774.3},{"i":11,"v":18773.8},{"i":12.9,"v":18775},{"i":15.9,"v":18780.9},{"i":18.9,"v":18793.6},{"i":21,"v":18800},{"i":23.9,"v":18814},{"i":26.9,"v":18830.5},{"i":29,"v":18836.9},{"i":32,"v":18840.7},{"i":34,"v":18842.3},{"i":34.9,"v":18842.3},{"i":37,"v":18836.1},{"i":40,"v":18829.3},{"i":41.4,"v":18828.8},{"i":42.9,"v":18822.9},{"i":45,"v":18808.9},{"i":48,"v":18793.6},{"i":49.9,"v":18788.5},{"i":51.8,"v":18786.7},{"i":55.1,"v":18786.7},{"i":57.4,"v":18791.1},{"i":59.9,"v":18794.1},{"i":61.9,"v":18789.3},{"i":63,"v":18788.3},{"i":64.8,"v":18789.8},{"i":66.9,"v":18788.5},{"i":68.1,"v":18790.8},{"i":69.9,"v":18786},{"i":72.9,"v":18769.4},{"i":76,"v":18756.2},{"i":78,"v":18754.1},{"i":80,"v":18750.8},{"i":81,"v":18750.8},{"i":82.9,"v":18755.4},{"i":84.9,"v":18757.9},{"i":87,"v":18764.3},{"i":88.9,"v":18759.2},{"i":89.9,"v":18761},{"i":91.9,"v":18760},{"i":95,"v":18749},{"i":96.9,"v":18740.1},{"i":98.9,"v":18726.1},{"i":99.9,"v":18721.5},{"i":102,"v":18704.5},{"i":105.9,"v":18682.8},{"i":107.9,"v":18674.7},{"i":109.9,"v":18673.2},{"i":111,"v":18673.9},{"i":114.5,"v":18692.5},{"i":119,"v":18707},{"i":120,"v":18712.9},{"i":121.9,"v":18728.7},{"i":125.9,"v":18746.5},{"i":128.2,"v":18761.8},{"i":131.1,"v":18777.1},{"i":134,"v":18789.8},{"i":136.9,"v":18806.4},{"i":140.9,"v":18826.7},{"i":144.8,"v":18845.8},{"i":145.9,"v":18848.9},{"i":148,"v":18843.3},{"i":149.8,"v":18833.1},{"i":154.2,"v":18803.8},{"i":156.9,"v":18783.4},{"i":159,"v":18769.4},{"i":161.1,"v":18750.3},{"i":163.1,"v":18721},{"i":164.9,"v":18703.2},{"i":167,"v":18676.5},{"i":169.1,"v":18659.9},{"i":170.8,"v":18644.6},{"i":174.4,"v":18611.5},{"i":176.8,"v":18586.1},{"i":178.8,"v":18563.1},{"i":180.9,"v":18541.5},{"i":183,"v":18530},{"i":184.9,"v":18521.1},{"i":188.9,"v":18519.8},{"i":193.3,"v":18521.6},{"i":196.2,"v":18522.4},{"i":199.1,"v":18530},{"i":201,"v":18536.4},{"i":207.2,"v":18536.9},{"i":210.1,"v":18535.9},{"i":212.7,"v":18533.1},{"i":214.5,"v":18540.2},{"i":217.6,"v":18566.9},{"i":220.9,"v":18601.3},{"i":223.9,"v":18624.2},{"i":226.9,"v":18649.7},{"i":229.8,"v":18663.7},{"i":233,"v":18667.8},{"i":234.6,"v":18665},{"i":237,"v":18653.5},{"i":239.9,"v":18641.7}],
"sma200":[{"i":0,"v":18683.3},{"i":5,"v":18700.6},{"i":6.9,"v":18704.5},{"i":10,"v":18713.4},{"i":10.9,"v":18717.2},{"i":13.9,"v":18726.1},{"i":16.8,"v":18736.8},{"i":21,"v":18749},{"i":23.9,"v":18759.2},{"i":26.9,"v":18766.4},{"i":29,"v":18773.8},{"i":32.2,"v":18782.2},{"i":34.9,"v":18788.5},{"i":37,"v":18792.3},{"i":39.4,"v":18798.7},{"i":42.9,"v":18802.5},{"i":46.5,"v":18807.6},{"i":50,"v":18812.2},{"i":53.9,"v":18817.8},{"i":57.4,"v":18821.6},{"i":59.9,"v":18824.2},{"i":61.9,"v":18826},{"i":64.8,"v":18827.2},{"i":69.9,"v":18830.5},{"i":76.1,"v":18833.1},{"i":82,"v":18836.7},{"i":86.8,"v":18838.7},{"i":91.9,"v":18836.9},{"i":97.9,"v":18831.3},{"i":100.9,"v":18828},{"i":103.9,"v":18823.7},{"i":108.6,"v":18818.3},{"i":112.7,"v":18816},{"i":117.5,"v":18813.2},{"i":121.9,"v":18809.4},{"i":127,"v":18807.6},{"i":131.1,"v":18806.6},{"i":137,"v":18807.4},{"i":141.8,"v":18808.4},{"i":147.1,"v":18808.4},{"i":151.3,"v":18806.1},{"i":154.2,"v":18804.1},{"i":158.1,"v":18800},{"i":161.1,"v":18798},{"i":165.5,"v":18791.8},{"i":169.1,"v":18784.7},{"i":175,"v":18770.7},{"i":180.9,"v":18754.1},{"i":184.9,"v":18746.5},{"i":189.4,"v":18740.1},{"i":193,"v":18736.3},{"i":196,"v":18732},{"i":201.1,"v":18725.6},{"i":205.3,"v":18721.5},{"i":208.9,"v":18717.5},{"i":211.9,"v":18712.6},{"i":214.9,"v":18710.3},{"i":220.3,"v":18705.7},{"i":223.9,"v":18703.2},{"i":228.1,"v":18699.4},{"i":231.6,"v":18696},{"i":234.6,"v":18692},{"i":237,"v":18690.5},{"i":239.9,"v":18687.4}]
},
"encoding":{
"x":{"field":"i","type":"quantitative","scale":{"domain":[-0.945,268.9],"nice":false,"zero":false,"padding":0},
"axis":{"title":null,"orient":"bottom","grid":false,"domain":false,"ticks":false,"labelFont":"Roboto","labelFontSize":12,"labelColor":"#3c4650","labelPadding":3,"labelFlush":false,"labelOverlap":false,"labelBound":false,
"values":[7.4,25,45,65,85,105,125,145,165,185,205,225,245,265],
"labelExpr":"{'7.4':'17.05.2024\u00a0\u00a007:00','25':'20.05\u00a0\u00a007:00','45':'21.05\u00a0\u00a007:00','65':'22.05\u00a0\u00a007:00','85':'23.05\u00a0\u00a007:00','105':'24.05\u00a0\u00a007:00','125':'27.05\u00a0\u00a007:00','145':'28.05\u00a0\u00a007:00','165':'29.05\u00a0\u00a007:00','185':'30.05\u00a0\u00a007:00','205':'31.05\u00a0\u00a007:00','225':'03.06\u00a0\u00a007:00','245':'04.06\u00a0\u00a007:00','265':'05.06\u00a0\u00a003:00'}[datum.value]"}},
"y":{"field":"v","type":"quantitative","scale":{"domain":[18413.8,18996.1],"nice":false,"zero":false},
"axis":{"title":null,"orient":"right","grid":false,"domain":false,"ticks":false,"labelFont":"Roboto","labelFontSize":12,"labelColor":"#5a646c","labelPadding":7,"labelAlign":"left","labelFlush":false,"labelOverlap":false,"labelBound":false,
"values":[18953.4,18924.9,18896.5,18868.1,18839.7,18811.2,18782.8,18754.4,18726.0,18697.6,18669.1,18640.7,18583.9,18555.4,18527.0,18498.6,18470.2,18441.7,18417.6],
"labelExpr":"datum.value<18420?'18413.3':format(datum.value,'.1f')"}}
},
"layer":[
{"data":{"values":[{"i":-0.945,"i2":268.2,"v":18613.3}]},
 "mark":{"type":"rule","color":"#455560","strokeWidth":1},
 "encoding":{"x2":{"field":"i2"}}},
{"data":{"name":"candles"},
 "mark":{"type":"rule","strokeWidth":1},
 "encoding":{
  "y":{"field":"l","type":"quantitative","scale":{"domain":[18413.8,18996.1],"nice":false,"zero":false},"axis":null},
  "y2":{"field":"h"},
  "color":{"condition":{"test":"datum.c>=datum.o","value":"#06835a"},"value":"#d00000"}}},
{"data":{"name":"candles"},
 "mark":{"type":"bar","size":5},
 "encoding":{
  "y":{"field":"o","type":"quantitative","scale":{"domain":[18413.8,18996.1],"nice":false,"zero":false},"axis":null},
  "y2":{"field":"c"},
  "color":{"condition":{"test":"datum.c>=datum.o","value":"#06835a"},"value":"#d00000"}}},
{"data":{"name":"bbUpper"},
 "mark":{"type":"line","color":"#8466cf","strokeWidth":1.2},"encoding":{}},
{"data":{"name":"bbLower"},
 "mark":{"type":"line","color":"#8466cf","strokeWidth":1.2},"encoding":{}},
{"data":{"name":"sma50"},
 "mark":{"type":"line","color":"#30a07c","strokeWidth":1.2},"encoding":{}},
{"data":{"name":"sma20"},
 "mark":{"type":"line","color":"#a2182f","strokeWidth":1.2},"encoding":{}},
{"data":{"name":"sma200"},
 "mark":{"type":"line","color":"#3f4d99","strokeWidth":1.2},"encoding":{}},
{"data":{"values":[{"i":143,"v":18916.6,"n":"a"},{"i":258.3,"v":18681.5,"n":"a"},{"i":180.2,"v":18431.1,"n":"b"},{"i":258.7,"v":18535.1,"n":"b"}]},
 "mark":{"type":"line","color":"#f5202e","strokeWidth":3.4},"encoding":{"detail":{"field":"n"}}},
{"data":{"values":[{"i":242.1,"v":18689.4},{"i":251.8,"v":18689.4}]},
 "mark":{"type":"line","color":"#f5202e","strokeWidth":4.5,"strokeCap":"round"},"encoding":{}},
{"data":{"values":[{"i":39.6,"v":18796.3}]},"mark":{"type":"point","filled":false,"opacity":1,"stroke":"#3f47cc","strokeWidth":3,"size":4,"shape":"M-38.4,0A38.4,37.5,0,1,0,38.4,0A38.4,37.5,0,1,0,-38.4,0Z"}},
{"data":{"values":[{"i":55.6,"v":18820}]},"mark":{"type":"point","filled":false,"opacity":1,"stroke":"#3f47cc","strokeWidth":3,"size":4,"shape":"M-39,0A39,39.5,0,1,0,39,0A39,39.5,0,1,0,-39,0Z"}},
{"data":{"values":[{"i":126.7,"v":18811.2}]},"mark":{"type":"point","filled":false,"opacity":1,"stroke":"#3f47cc","strokeWidth":3,"size":4,"shape":"M-25,0A25,26,0,1,0,25,0A25,26,0,1,0,-25,0Z"}},
{"data":{"values":[{"i":223.3,"v":18709}]},"mark":{"type":"point","filled":false,"opacity":1,"stroke":"#3f47cc","strokeWidth":3,"size":4,"shape":"M-58,0A58,52.5,0,1,0,58,0A58,52.5,0,1,0,-58,0Z"}},
{"data":{"values":[{"i":231.6,"v":18585}]},"mark":{"type":"point","filled":false,"opacity":1,"stroke":"#3f47cc","strokeWidth":3,"size":4,"shape":"M-32.4,0A32.4,37.7,0,1,0,32.4,0A32.4,37.7,0,1,0,-32.4,0Z"}},
{"data":{"values":[{"i":205,"v":18542.2}]},"mark":{"type":"point","filled":false,"opacity":1,"stroke":"#3f47cc","strokeWidth":3,"size":4,"shape":"M-64.7,0A64.7,58.3,0,1,0,64.7,0A64.7,58.3,0,1,0,-64.7,0Z"}},
{"data":{"values":[{"i":268.2,"lo":18613.3,"hi":18613.3},{"i":268.9,"lo":18606.8,"hi":18619.8},{"i":277,"lo":18606.8,"hi":18619.8}]},
 "mark":{"type":"area","color":"#455560","opacity":1},
 "encoding":{"y":{"field":"lo","type":"quantitative","scale":{"domain":[18413.8,18996.1],"nice":false,"zero":false},"axis":null},"y2":{"field":"hi"}}},
{"data":{"values":[{"i":270,"v":18612.6,"t":"18613.3"}]},
 "mark":{"type":"text","align":"left","baseline":"middle","font":"Roboto","fontSize":12,"color":"#ffffff"},"encoding":{"text":{"field":"t"}}},
{"data":{"values":[{"i":122.4,"i2":132.6,"v":18592.6,"v2":18540}]},
 "mark":{"type":"rect","color":"#f63240","cornerRadius":1},"encoding":{"x2":{"field":"i2"},"y2":{"field":"v2"}}},
{"data":{"values":[{"i":127.5,"v":18566.3}]},
 "mark":{"type":"point","filled":true,"opacity":1,"color":"#ffffff","size":4624,"shape":"M0.78,-0.51L-0.04,-0.22L-0.81,-0.22L-0.33,-0.02L-0.88,0.2L-0.27,0.34L0,0.14L0.35,0.42L0.87,0.52L0.35,-0.09Z"}},
{"data":{"values":[{"i":134.3,"v":18558.2,"t":"xtb"}]},
 "mark":{"type":"text","align":"left","baseline":"alphabetic","font":"Inter","fontWeight":800,"fontSize":62,"color":"#000000"},"encoding":{"text":{"field":"t"}}},
{"data":{"values":[{"i":134.3,"v":18548.3,"t":"online investing"}]},
 "mark":{"type":"text","align":"left","baseline":"middle","font":"Roboto","fontWeight":300,"fontSize":14,"color":"#222222"},"encoding":{"text":{"field":"t"}}},
{"data":{"values":[{"i":2.05,"v":18981.6,"t":"DE40"}]},
 "mark":{"type":"text","align":"left","baseline":"middle","font":"Roboto","fontWeight":700,"fontSize":12,"color":"#3e4c57"},"encoding":{"text":{"field":"t"}}},
{"data":{"values":[{"i":6.94,"v":18981.6,"t":"CFD"}]},
 "mark":{"type":"text","align":"left","baseline":"middle","font":"Roboto","fontSize":8,"color":"#8a8a8a"},"encoding":{"text":{"field":"t"}}},
{"data":{"values":[{"i":17.05,"i2":23.5,"v":18987.7,"v2":18977}]},
 "mark":{"type":"rect","fill":"#ffffff","stroke":"#dddddd","strokeWidth":1,"cornerRadius":2},"encoding":{"x2":{"field":"i2"},"y2":{"field":"v2"}}},
{"data":{"values":[{"i":17.8,"v":18980.8,"t":"H1"}]},
 "mark":{"type":"text","align":"left","baseline":"middle","font":"Roboto","fontSize":10,"color":"#666666"},"encoding":{"text":{"field":"t"}}},
{"data":{"values":[{"i":11.05,"v":18983.1},{"i":22.44,"v":18983.1}]},
 "mark":{"type":"point","filled":true,"opacity":1,"color":"#8a8f94","size":36,"shape":"M-1,-0.6L1,-0.6L0,0.6Z"}},
{"data":{"values":[
 {"i":3.6,"v":18451.2,"t":"Bollinger\u00a0\u00a0[20, 2] 18725.6,\u00a0\u00a018641.7,\u00a0\u00a018557.8"},
 {"i":3.6,"v":18439.8,"t":"SMA [20, 0] 18641.7"},
 {"i":3.6,"v":18429.1,"t":"SMA [200, 0] 18687.4"},
 {"i":3.6,"v":18418.4,"t":"SMA [50, 0] 18600.2"}]},
 "mark":{"type":"text","align":"left","baseline":"middle","font":"Roboto","fontSize":10,"color":"#666666"},"encoding":{"text":{"field":"t"}}},
{"data":{"values":[{"i":0.7,"v":18452,"t":"≡"},{"i":0.7,"v":18441,"t":"≡"},{"i":0.7,"v":18430,"t":"≡"},{"i":0.7,"v":18419,"t":"≡"},
 {"i":2.65,"v":18452,"t":"✖"},{"i":2.65,"v":18441,"t":"✖"},{"i":2.65,"v":18430,"t":"✖"},{"i":2.65,"v":18419,"t":"✖"}]},
 "mark":{"type":"text","align":"center","baseline":"middle","font":"DejaVu Sans","fontSize":10,"color":"#9a9a9a"},"encoding":{"text":{"field":"t"}}},
{"data":{"values":[{"i":257.5,"v":18429,"t":"31"},{"i":262.5,"v":18429,"t":"21"}]},
 "mark":{"type":"text","align":"left","baseline":"middle","font":"Roboto","fontSize":15,"color":"#f7a129"},"encoding":{"text":{"field":"t"}}},
{"data":{"values":[{"i":259.9,"v":18429,"t":"m"},{"i":264.9,"v":18429,"t":"Sek"}]},
 "mark":{"type":"text","align":"left","baseline":"middle","font":"Roboto","fontSize":15,"color":"#bdbdbd"},"encoding":{"text":{"field":"t"}}}
]
}
